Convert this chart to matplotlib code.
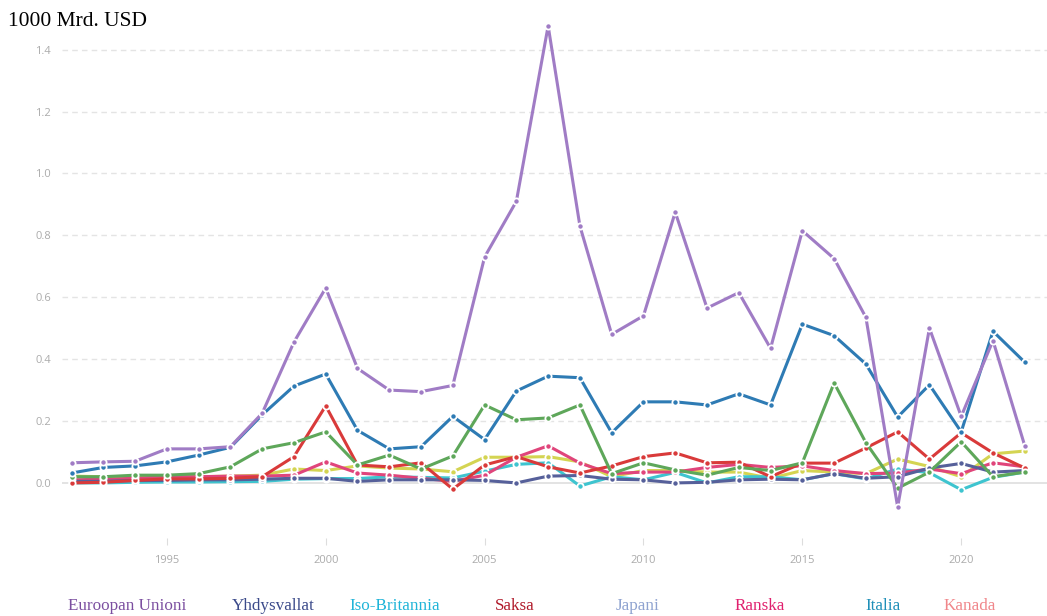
import matplotlib
matplotlib.use("Agg")
import matplotlib.pyplot as plt

# years on the x axis
years = list(range(1992, 2023))

# values in 1000 Mrd. USD
eu = [0.065, 0.068, 0.07, 0.11, 0.11, 0.117, 0.225, 0.455, 0.63, 0.37, 0.30,
      0.295, 0.315, 0.73, 0.91, 1.477, 0.83, 0.48, 0.54, 0.875, 0.565, 0.615,
      0.435, 0.815, 0.725, 0.535, -0.078, 0.50, 0.215, 0.46, 0.12]
us = [0.032, 0.05, 0.055, 0.068, 0.09, 0.115, 0.22, 0.313, 0.352, 0.17, 0.11,
      0.117, 0.215, 0.14, 0.297, 0.345, 0.34, 0.162, 0.262, 0.262, 0.252, 0.288,
      0.252, 0.513, 0.476, 0.384, 0.213, 0.317, 0.165, 0.49, 0.39]
uk = [0.02, 0.02, 0.025, 0.025, 0.03, 0.052, 0.11, 0.13, 0.165, 0.058, 0.09,
      0.045, 0.087, 0.252, 0.204, 0.21, 0.252, 0.03, 0.065, 0.042, 0.025, 0.05,
      0.04, 0.065, 0.323, 0.13, -0.017, 0.035, 0.133, 0.02, 0.035]
de = [0.0, 0.002, 0.008, 0.013, 0.013, 0.015, 0.02, 0.085, 0.249, 0.058, 0.052,
      0.065, -0.02, 0.058, 0.085, 0.052, 0.032, 0.055, 0.085, 0.097, 0.065, 0.067,
      0.02, 0.064, 0.064, 0.113, 0.165, 0.077, 0.162, 0.097, 0.048]
jp = [0.005, 0.005, 0.008, 0.008, 0.01, 0.01, 0.012, 0.015, 0.015, 0.005, 0.01,
      0.01, 0.01, 0.008, 0.0, 0.022, 0.024, 0.012, 0.01, 0.0, 0.002, 0.01,
      0.012, 0.01, 0.03, 0.015, 0.02, 0.048, 0.063, 0.035, 0.04]
fr = [0.01, 0.012, 0.015, 0.02, 0.02, 0.022, 0.022, 0.025, 0.068, 0.032, 0.025,
      0.015, 0.005, 0.025, 0.083, 0.12, 0.064, 0.03, 0.035, 0.035, 0.05, 0.06,
      0.05, 0.055, 0.04, 0.03, 0.032, 0.045, 0.03, 0.065, 0.052]
it = [0.0, 0.0, 0.002, 0.003, 0.003, 0.004, 0.005, 0.012, 0.014, 0.014, 0.02,
      0.018, 0.016, 0.038, 0.06, 0.065, -0.01, 0.02, 0.01, 0.034, 0.0, 0.02,
      0.02, 0.01, 0.03, 0.013, 0.045, 0.033, -0.022, 0.018, 0.035]
ca = [0.022, 0.02, 0.018, 0.02, 0.02, 0.022, 0.025, 0.045, 0.04, 0.055, 0.048,
      0.045, 0.036, 0.083, 0.083, 0.085, 0.068, 0.02, 0.04, 0.04, 0.035, 0.035,
      0.015, 0.04, 0.035, 0.03, 0.077, 0.053, 0.02, 0.094, 0.103]

labels = ["Euroopan Unioni", "Yhdysvallat", "Iso-Britannia", "Saksa",
          "Japani", "Ranska", "Italia", "Kanada"]
series = [eu, us, uk, de, jp, fr, it, ca]
line_colors = ["#a07cc5", "#2e7bb4", "#5ea75a", "#d93a3a",
               "#56609a", "#e0457b", "#3ec4cf", "#d4d452"]
label_colors = ["#7b4fa0", "#3b4a8a", "#1fb4d8", "#b01a2a",
                "#8fa3d0", "#e0206e", "#1f8fb8", "#f0868a"]
label_x = [127, 273, 395, 515, 638, 760, 883, 970]

x_ticks = [1995, 2000, 2005, 2010, 2015, 2020]
y_ticks = [0.0, 0.2, 0.4, 0.6, 0.8, 1.0, 1.2, 1.4]

W, H = 1047, 616
fig = plt.figure(figsize=(W / 100, H / 100), dpi=100)
ax = fig.add_axes([62 / W, 1 - 538 / H, 1 - 62 / W, (538 - 20) / H])

# draw from the bottom series up so the big ones sit on top
for i in reversed(range(len(series))):
    ax.plot(years, series[i], color=line_colors[i], lw=2.2, marker="o",
            markersize=4.5, markerfacecolor=line_colors[i],
            markeredgecolor="white", markeredgewidth=1.3, zorder=3 + (7 - i) * 0.1)

ax.set_xlim(1991.7, 2022.7)
ax.set_ylim(-0.178, 1.496)
ax.set_xticks(x_ticks)
ax.set_yticks(y_ticks)
ax.set_yticklabels(["%.1f" % v for v in y_ticks])

for y in y_ticks[1:]:
    ax.axhline(y, color="#e4e4e4", lw=1, ls=(0, (4, 3)), zorder=1)
ax.axhline(0, color="#dedede", lw=1.2, zorder=1)

for s in ax.spines.values():
    s.set_visible(False)
ax.tick_params(axis="y", length=0, pad=8, labelsize=8, labelcolor="#ababab")
ax.tick_params(axis="x", length=5, width=0.8, color="#dddddd", pad=7,
               labelsize=8, labelcolor="#ababab")
for t in ax.get_xticklabels() + ax.get_yticklabels():
    t.set_family("Open Sans")

fig.text(8 / W, 1 - 22 / H, "1000 Mrd. USD", family="Liberation Serif",
         fontsize=15.5, color="black", va="center", ha="left")

for name, c, xp in zip(labels, label_colors, label_x):
    fig.text(xp / W, 1 - 606 / H, name, family="Liberation Serif",
             fontsize=12.3, color=c, va="center", ha="center")

fig.savefig("out.png", dpi=100, facecolor="white")
